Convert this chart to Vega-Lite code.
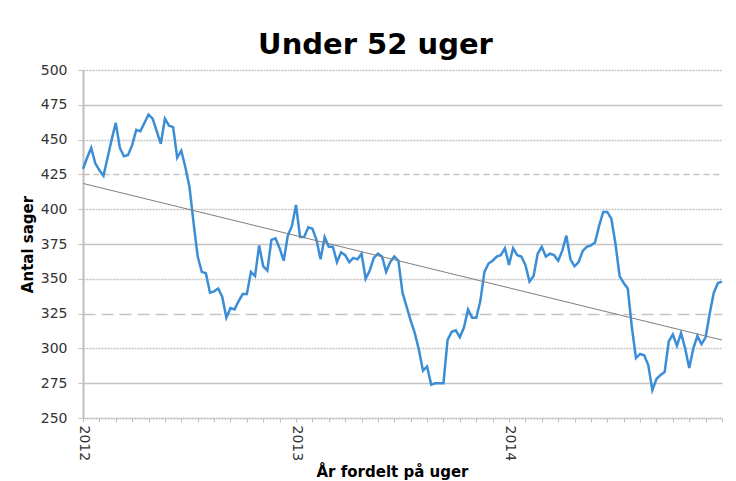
{
  "$schema": "https://vega.github.io/schema/vega-lite/v6.json",
  "width": 639,
  "height": 348,
  "autosize": {"type": "none"},
  "padding": {"left": 83, "top": 70, "right": 14, "bottom": 63},
  "background": "white",
  "title": {"text": "Under 52 uger", "font": "DejaVu Sans", "fontSize": 29, "fontWeight": "bold", "color": "#000000", "anchor": "middle", "dx": -27, "dy": 28, "offset": 8, "baseline": "alphabetic"},
  "config": {
    "view": {"stroke": null},
    "axis": {"labelFont": "DejaVu Sans", "labelFontSize": 14, "labelColor": "#333333", "titleFont": "DejaVu Sans", "titleFontSize": 15, "titleFontWeight": "bold", "titleColor": "#000000", "domainColor": "#bfbfbf", "tickColor": "#bfbfbf", "gridColor": "#c4c4c4"}
  },
  "datasets": {
    "uger": [
      {"uge":0,"sager":429},{"uge":1,"sager":437},{"uge":2,"sager":444},{"uge":3,"sager":433},{"uge":4,"sager":428},{"uge":5,"sager":424},{"uge":6,"sager":437},{"uge":7,"sager":450},{"uge":8,"sager":462},{"uge":9,"sager":444},
      {"uge":10,"sager":438},{"uge":11,"sager":439},{"uge":12,"sager":446},{"uge":13,"sager":457},{"uge":14,"sager":456},{"uge":15,"sager":462},{"uge":16,"sager":468},{"uge":17,"sager":465},{"uge":18,"sager":456},{"uge":19,"sager":447},
      {"uge":20,"sager":465},{"uge":21,"sager":460},{"uge":22,"sager":459},{"uge":23,"sager":437},{"uge":24,"sager":442},{"uge":25,"sager":430},{"uge":26,"sager":416},{"uge":27,"sager":390},{"uge":28,"sager":366},{"uge":29,"sager":355},
      {"uge":30,"sager":354},{"uge":31,"sager":340},{"uge":32,"sager":341},{"uge":33,"sager":343},{"uge":34,"sager":337},{"uge":35,"sager":322},{"uge":36,"sager":329},{"uge":37,"sager":328},{"uge":38,"sager":334},{"uge":39,"sager":339},
      {"uge":40,"sager":339},{"uge":41,"sager":355},{"uge":42,"sager":352},{"uge":43,"sager":374},{"uge":44,"sager":359},{"uge":45,"sager":356},{"uge":46,"sager":378},{"uge":47,"sager":379},{"uge":48,"sager":372},{"uge":49,"sager":363},
      {"uge":50,"sager":381},{"uge":51,"sager":388},{"uge":52,"sager":403},{"uge":53,"sager":380},{"uge":54,"sager":380},{"uge":55,"sager":387},{"uge":56,"sager":386},{"uge":57,"sager":378},{"uge":58,"sager":364},{"uge":59,"sager":380},
      {"uge":60,"sager":373},{"uge":61,"sager":373},{"uge":62,"sager":362},{"uge":63,"sager":369},{"uge":64,"sager":367},{"uge":65,"sager":362},{"uge":66,"sager":365},{"uge":67,"sager":364},{"uge":68,"sager":368},{"uge":69,"sager":350},
      {"uge":70,"sager":356},{"uge":71,"sager":365},{"uge":72,"sager":368},{"uge":73,"sager":366},{"uge":74,"sager":355},{"uge":75,"sager":362},{"uge":76,"sager":366},{"uge":77,"sager":363},{"uge":78,"sager":340},{"uge":79,"sager":330},
      {"uge":80,"sager":320},{"uge":81,"sager":311},{"uge":82,"sager":299},{"uge":83,"sager":284},{"uge":84,"sager":287},{"uge":85,"sager":274},{"uge":86,"sager":275},{"uge":87,"sager":275},{"uge":88,"sager":275},{"uge":89,"sager":306},
      {"uge":90,"sager":312},{"uge":91,"sager":313},{"uge":92,"sager":308},{"uge":93,"sager":315},{"uge":94,"sager":328},{"uge":95,"sager":322},{"uge":96,"sager":322},{"uge":97,"sager":334},{"uge":98,"sager":355},{"uge":99,"sager":361},
      {"uge":100,"sager":363},{"uge":101,"sager":366},{"uge":102,"sager":367},{"uge":103,"sager":372},{"uge":104,"sager":360},{"uge":105,"sager":372},{"uge":106,"sager":367},{"uge":107,"sager":366},{"uge":108,"sager":360},{"uge":109,"sager":348},
      {"uge":110,"sager":352},{"uge":111,"sager":368},{"uge":112,"sager":373},{"uge":113,"sager":366},{"uge":114,"sager":368},{"uge":115,"sager":367},{"uge":116,"sager":363},{"uge":117,"sager":370},{"uge":118,"sager":381},{"uge":119,"sager":364},
      {"uge":120,"sager":359},{"uge":121,"sager":362},{"uge":122,"sager":370},{"uge":123,"sager":373},{"uge":124,"sager":374},{"uge":125,"sager":376},{"uge":126,"sager":388},{"uge":127,"sager":398},{"uge":128,"sager":398},{"uge":129,"sager":393},
      {"uge":130,"sager":375},{"uge":131,"sager":352},{"uge":132,"sager":347},{"uge":133,"sager":343},{"uge":134,"sager":315},{"uge":135,"sager":293},{"uge":136,"sager":296},{"uge":137,"sager":295},{"uge":138,"sager":288},{"uge":139,"sager":270},
      {"uge":140,"sager":278},{"uge":141,"sager":281},{"uge":142,"sager":283},{"uge":143,"sager":305},{"uge":144,"sager":310},{"uge":145,"sager":302},{"uge":146,"sager":311},{"uge":147,"sager":300},{"uge":148,"sager":286},{"uge":149,"sager":300},
      {"uge":150,"sager":309},{"uge":151,"sager":303},{"uge":152,"sager":308},{"uge":153,"sager":325},{"uge":154,"sager":340},{"uge":155,"sager":347},{"uge":156,"sager":348}
    ],
    "trend": [
      {"uge": 0, "sager": 418.5},
      {"uge": 156, "sager": 306}
    ]
  },
  "encoding": {
    "x": {
      "field": "uge", "type": "quantitative",
      "scale": {"domain": [0, 156], "nice": false, "zero": false},
      "axis": {
        "title": "År fordelt på uger",
        "values": [0,4,8,12,16,20,24,28,32,36,40,44,48,52,56,60,64,68,72,76,80,84,88,92,96,100,104,108,112,116,120,124,128,132,136,140,144,148,152,156],
        "labelExpr": "datum.value == 0 ? '2012' : datum.value == 52 ? '2013' : datum.value == 104 ? '2014' : ''",
        "labelAngle": 90, "labelFlush": false, "labelOverlap": false, "labelPadding": 3,
        "grid": false, "tickSize": 4, "domainWidth": 1.5, "domainDash": [2, 1],
        "titleX": 309, "titlePadding": 4
      }
    },
    "y": {
      "field": "sager", "type": "quantitative",
      "scale": {"domain": [250, 500], "nice": false, "zero": false},
      "axis": {
        "title": "Antal sager",
        "values": [250,275,300,325,350,375,400,425,450,475,500],
        "tickSize": 5, "labelPadding": 11, "domainWidth": 2, "titlePadding": 5,
        "grid": true,
        "gridDash": {
          "condition": [
            {"test": "datum.value == 475 || datum.value == 375 || datum.value == 275", "value": []},
            {"test": "datum.value == 425", "value": [6, 4]},
            {"test": "datum.value == 325", "value": [12, 6]}
          ],
          "value": [2, 1]
        },
        "gridWidth": 1.5
      }
    }
  },
  "layer": [
    {"data": {"name": "uger"}, "mark": {"type": "line", "color": "#3b8ed6", "strokeWidth": 2.5}},
    {"data": {"name": "trend"}, "mark": {"type": "line", "color": "#7f7f7f", "strokeWidth": 1}}
  ]
}
